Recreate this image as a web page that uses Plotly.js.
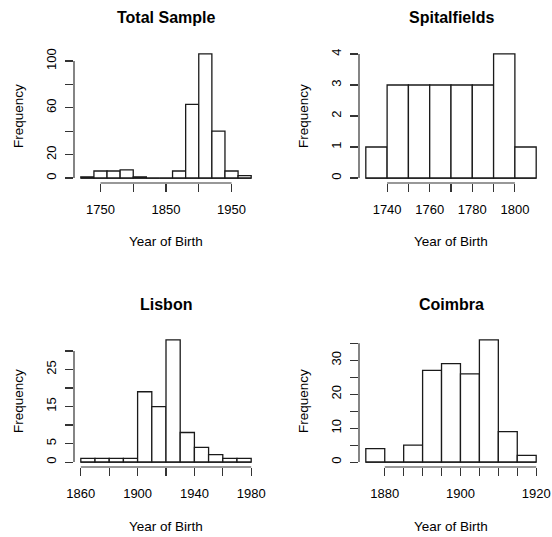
<!DOCTYPE html>
<html>
<head>
<meta charset="utf-8">
<script src="https://cdn.plot.ly/plotly-3.0.1.min.js"></script>
<style>html,body{margin:0;padding:0;background:#fff;}#chart{width:552px;height:537px;}</style>
</head>
<body>
<div id="chart"></div>
<script>
// ---- data (histogram breaks and counts) ----
const totalBreaks = [1720,1740,1760,1780,1800,1820,1840,1860,1880,1900,1920,1940,1960,1980];
const totalCounts = [1,6,6,7,1,0,0,6,63,106,40,6,2];
const spitBreaks = [1730,1740,1750,1760,1770,1780,1790,1800,1810];
const spitCounts = [1,3,3,3,3,3,4,1];
const lisbonBreaks = [1860,1870,1880,1890,1900,1910,1920,1930,1940,1950,1960,1970,1980];
const lisbonCounts = [1,1,1,1,19,15,33,8,4,2,1,1];
const coimbraBreaks = [1875,1880,1885,1890,1895,1900,1905,1910,1915,1920];
const coimbraCounts = [4,0,5,27,29,26,36,9,2];

const totalXTicks = [1750,1800,1850,1900,1950];
const totalXLabels = ['1750','','1850','','1950'];
const totalYTicks = [0,20,40,60,80,100];
const totalYLabels = ['0','20','','60','','100'];
const spitXTicks = [1740,1750,1760,1770,1780,1790,1800];
const spitXLabels = ['1740','','1760','','1780','','1800'];
const spitYTicks = [0,1,2,3,4];
const spitYLabels = ['0','1','2','3','4'];
const lisbonXTicks = [1860,1880,1900,1920,1940,1960,1980];
const lisbonXLabels = ['1860','','1900','','1940','','1980'];
const lisbonYTicks = [0,5,10,15,20,25,30];
const lisbonYLabels = ['0','5','','15','','25',''];
const coimbraXTicks = [1880,1885,1890,1895,1900,1905,1910,1915,1920];
const coimbraXLabels = ['1880','','','','1900','','','','1920'];
const coimbraYTicks = [0,5,10,15,20,25,30,35];
const coimbraYLabels = ['0','','10','','20','','30',''];

const panelTitles = ['Total Sample','Spitalfields','Lisbon','Coimbra'];
const xLabel = 'Year of Birth';
const yLabel = 'Frequency';

// ---- build ----
const FONT = '"Liberation Sans", Arial, Helvetica, sans-serif';
const AX = '#333';
const panels = [
  {b: totalBreaks, c: totalCounts, xt: totalXTicks, xl: totalXLabels, yt: totalYTicks, yl: totalYLabels},
  {b: spitBreaks, c: spitCounts, xt: spitXTicks, xl: spitXLabels, yt: spitYTicks, yl: spitYLabels},
  {b: lisbonBreaks, c: lisbonCounts, xt: lisbonXTicks, xl: lisbonXLabels, yt: lisbonYTicks, yl: lisbonYLabels},
  {b: coimbraBreaks, c: coimbraCounts, xt: coimbraXTicks, xl: coimbraXLabels, yt: coimbraYTicks, yl: coimbraYLabels}
];
const W = 552, H = 537;
const xDom = [[74/W, 258/W], [359/W, 543/W], [74/W, 258/W], [359/W, 543/W]];
const yDom = [[1-183/H, 1-49/H], [1-183/H, 1-49/H], [1-467/H, 1-335/H], [1-467/H, 1-335/H]];

const traces = [];
const shapes = [];
const annotations = [];
const layout = {
  width: W, height: H,
  margin: {l:0, r:0, t:0, b:0},
  paper_bgcolor: '#fff', plot_bgcolor: '#fff',
  showlegend: false,
  font: {family: FONT, color: '#000'},
  bargap: 0
};

panels.forEach((p, i) => {
  const n = i + 1;
  const xa = n === 1 ? 'x' : 'x' + n;
  const ya = n === 1 ? 'y' : 'y' + n;
  const centers = p.c.map((_, k) => (p.b[k] + p.b[k+1]) / 2);
  const widths = p.c.map((_, k) => p.b[k+1] - p.b[k]);
  traces.push({
    type: 'bar', x: centers, y: p.c, width: widths,
    xaxis: xa, yaxis: ya,
    marker: {color: '#fff', line: {color: '#1a1a1a', width: 1.3}},
    hoverinfo: 'skip'
  });
  // baseline of histogram (zero-count bins drawn as flat lines)
  traces.push({
    type: 'scatter', mode: 'lines',
    x: [p.b[0], p.b[p.b.length-1]], y: [0, 0],
    xaxis: xa, yaxis: ya,
    line: {color: '#1a1a1a', width: 1.3}, hoverinfo: 'skip'
  });
  const b0 = p.b[0], b1 = p.b[p.b.length-1];
  const xr = b1 - b0;
  const ymax = Math.max(...p.c);
  const axBase = {
    showgrid: false, zeroline: false, showline: false,
    ticks: 'outside', ticklen: 8, tickwidth: 1.2, tickcolor: AX,
    tickfont: {family: FONT, size: 13, color: '#000'},
    tickmode: 'array', fixedrange: true
  };
  layout['xaxis' + (n === 1 ? '' : n)] = Object.assign({}, axBase, {
    domain: xDom[i], anchor: ya,
    range: [b0 - 0.04*xr, b1 + 0.04*xr],
    tickvals: p.xt, ticktext: p.xl, ticklabelstandoff: 6
  });
  layout['yaxis' + (n === 1 ? '' : n)] = Object.assign({}, axBase, {
    domain: yDom[i], anchor: xa,
    range: [-0.04*ymax, 1.04*ymax],
    tickvals: p.yt, ticktext: p.yl, tickangle: -90, ticklabelstandoff: 4
  });
  // R-style axis lines spanning first to last tick
  shapes.push({type: 'line', xref: xa, yref: ya + ' domain',
    x0: p.xt[0], x1: p.xt[p.xt.length-1], y0: 0, y1: 0,
    line: {color: AX, width: 1.2}});
  shapes.push({type: 'line', xref: xa + ' domain', yref: ya,
    x0: 0, x1: 0, y0: p.yt[0], y1: p.yt[p.yt.length-1],
    line: {color: AX, width: 1.2}});
  // titles
  const cx = (xDom[i][0] + xDom[i][1]) / 2;
  const top = yDom[i][1], bot = yDom[i][0];
  annotations.push({text: '<b>' + panelTitles[i] + '</b>', xref: 'paper', yref: 'paper',
    x: cx, y: top + 31/H, xanchor: 'center', yanchor: 'middle', showarrow: false,
    font: {family: FONT, size: 16, color: '#000'}});
  annotations.push({text: xLabel, xref: 'paper', yref: 'paper',
    x: cx, y: bot - 59/H, xanchor: 'center', yanchor: 'middle', showarrow: false,
    font: {family: FONT, size: 13.5, color: '#000'}});
  annotations.push({text: yLabel, xref: 'paper', yref: 'paper',
    x: xDom[i][0] - 56/W, y: (top + bot) / 2, xanchor: 'center', yanchor: 'middle',
    textangle: -90, showarrow: false,
    font: {family: FONT, size: 13.5, color: '#000'}});
});
layout.shapes = shapes;
layout.annotations = annotations;

Plotly.newPlot('chart', traces, layout, {staticPlot: true, displayModeBar: false});
</script>
</body>
</html>
